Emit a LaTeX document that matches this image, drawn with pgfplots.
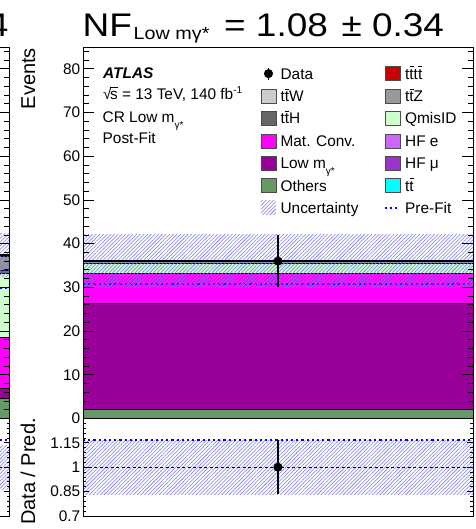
\documentclass[border=0pt]{standalone}
\usepackage{fontspec}
\setmainfont{Liberation Sans}
\usepackage{pgfplots}
\pgfplotsset{compat=1.18}
\usetikzlibrary{patterns.meta}

% sample colours
\definecolor{cOthers}{RGB}{102,153,102}
\definecolor{cLowM}{RGB}{153,0,153}
\definecolor{cMatConv}{RGB}{255,0,255}
\definecolor{cQmis}{RGB}{204,255,204}
\definecolor{cttW}{RGB}{204,204,204}
\definecolor{cttZ}{RGB}{153,153,153}
\definecolor{cttH}{RGB}{102,102,102}
\definecolor{ctttt}{RGB}{204,0,0}
\definecolor{cHFe}{RGB}{204,102,255}
\definecolor{cHFmu}{RGB}{153,51,204}
\definecolor{cttbar}{RGB}{0,255,255}
\definecolor{cHatch}{RGB}{120,120,245}

% t with a bar, sqrt(s), low-mass label
\newcommand{\tb}{\ooalign{t\cr\hidewidth\raisebox{0.78em}{\rule{0.26em}{0.06em}}\hidewidth\cr}}
\newcommand{\rts}{√\kern-0.1em\ooalign{s\cr\raisebox{0.78em}{\rule{0.5em}{0.05em}}\cr}}
\newcommand{\lowm}{Low m\raisebox{-0.35em}{\fontsize{10}{12}\selectfont γ*}}
\newcommand{\legbox}[1]{\addlegendimage{legend image code/.code={\draw[fill=#1,draw=black!70,line width=0.6pt] (0pt,-7pt) rectangle (15pt,7pt);}}}

\tikzset{unc/.style={pattern={Lines[angle=45,distance=2.6pt,line width=0.55pt]}, pattern color=cHatch, draw=none}}

\pgfplotsset{
  panel/.style={scale only axis, width=390pt, xmin=0, xmax=1, xtick=\empty,
    tick align=inside, tick pos=both, yticklabel pos=left,
    axis line style={line width=0.9pt}, tick style={line width=0.8pt, black},
    axis on top, clip=true,
    /pgf/number format/assume math mode=true,
    tick label style={font=\fontsize{15.4}{18}\selectfont},
    yticklabel style={inner sep=2.5pt}},
  upper/.style={panel, height=371.5pt, ymin=0, ymax=85,
    ytick={0,10,...,80}, minor ytick={2,4,...,84},
    major tick length=11pt, minor tick length=5.5pt},
  lower/.style={panel, height=97.5pt, ymin=0.7, ymax=1.3,
    ytick={0.7,0.85,1,1.15,1.3}, yticklabels={0.7,0.85,1,1.15,},
    minor ytick={0.73,0.76,...,1.28},
    major tick length=6pt, minor tick length=3pt},
  layer/.style={draw=black, line width=0.6pt, fill=#1},
}

\begin{document}
\begin{tikzpicture}
\useasboundingbox (0,0) rectangle (475pt,529pt);
\clip (0,0) rectangle (475pt,529pt);

% ---- neighbouring control region (only its right edge is on the page)
\begin{axis}[upper, at={(-380.2pt,110.5pt)}, anchor=south west, yticklabels={}]
  \addplot[layer=cOthers]   coordinates {(0,0) (1,0) (1,4.7) (0,4.7) (0,0)};
  \addplot[layer=cLowM]     coordinates {(0,4.7) (1,4.7) (1,7.0) (0,7.0) (0,4.7)};
  \addplot[layer=cMatConv]  coordinates {(0,7.0) (1,7.0) (1,18.6) (0,18.6) (0,7.0)};
  \addplot[layer=cQmis]     coordinates {(0,18.6) (1,18.6) (1,33.3) (0,33.3) (0,18.6)};
  \addplot[layer=cttH]      coordinates {(0,33.3) (1,33.3) (1,34.0) (0,34.0) (0,33.3)};
  \addplot[layer=cttZ]      coordinates {(0,34.0) (1,34.0) (1,37.0) (0,37.0) (0,34.0)};
  \addplot[layer=cttW]      coordinates {(0,37.0) (1,37.0) (1,37.4) (0,37.4) (0,37.0)};
  \addplot[blue, line width=2.2pt, dash pattern=on 2.2pt off 3pt] coordinates {(0,29.8) (1,29.8)};
  \addplot[unc] coordinates {(0,32.4) (1,32.4) (1,42.4) (0,42.4)};
  \addplot[black, line width=1.2pt] coordinates {(0,37.4) (1,37.4)};
\end{axis}
\begin{axis}[lower, at={(-380.2pt,13pt)}, anchor=south west, yticklabels={}]
  \addplot[unc] coordinates {(0,0.866) (1,0.866) (1,1.134) (0,1.134)};
  \addplot[blue, line width=2.2pt, dash pattern=on 2.2pt off 3pt] coordinates {(0,1.167) (1,1.167)};
  \addplot[black, line width=0.8pt, dash pattern=on 3pt off 2.5pt] coordinates {(0,1) (1,1)};
\end{axis}

% ---- CR Low m_gamma*, post-fit
\begin{axis}[upper, at={(83pt,110.5pt)}, anchor=south west,
  legend columns=2, legend cell align=left,
  legend style={draw=none, fill=none, inner sep=0pt, outer sep=0pt,
    at={(axis description cs:0.4556,0.948)}, anchor=north west,
    font=\fontsize{15.4}{18}\selectfont, row sep=7.8pt,
    nodes={inner sep=0pt, text height=12.5pt, text depth=1.5pt},
    /tikz/every odd column/.append style={column sep=4.3pt},
    /tikz/every even column/.append style={column sep=25pt}}]
  % stacked yields
  \addplot[layer=cOthers,  forget plot] coordinates {(0,0) (1,0) (1,2.2) (0,2.2) (0,0)};
  \addplot[layer=cLowM,    forget plot] coordinates {(0,2.2) (1,2.2) (1,26.3) (0,26.3) (0,2.2)};
  \addplot[layer=cMatConv, forget plot] coordinates {(0,26.3) (1,26.3) (1,33.3) (0,33.3) (0,26.3)};
  \addplot[layer=cQmis,    forget plot] coordinates {(0,33.3) (1,33.3) (1,35.5) (0,35.5) (0,33.3)};
  \addplot[fill=cttH, draw=none, forget plot] coordinates {(0,35.5) (1,35.5) (1,35.7) (0,35.7)};
  \addplot[fill=cttZ, draw=none, forget plot] coordinates {(0,35.7) (1,35.7) (1,35.9) (0,35.9)};
  \addplot[fill=cttW, draw=none, forget plot] coordinates {(0,35.9) (1,35.9) (1,36.0) (0,36.0)};
  % pre-fit total
  \addplot[blue, line width=2.2pt, dash pattern=on 2.2pt off 3pt, forget plot] coordinates {(0,30.8) (1,30.8)};
  % post-fit uncertainty and total
  \addplot[unc, forget plot] coordinates {(0,30.0) (1,30.0) (1,42.0) (0,42.0)};
  \addplot[black, line width=1.4pt, forget plot] coordinates {(0,36.0) (1,36.0)};
  % data
  \addplot[black, only marks, mark=*, mark size=4.3pt, forget plot,
    error bars/.cd, y dir=both, y explicit, error mark=none,
    error bar style={line width=1.3pt}] coordinates {(0.5,36) +- (0,6)};

  % legend, row by row
  \addlegendimage{legend image code/.code={\draw[black,line width=1.3pt] (7.5pt,-6pt) -- (7.5pt,6pt); \fill[black] (7.5pt,0pt) circle (4.3pt);}}
  \addlegendentry{Data}
  \legbox{ctttt}\addlegendentry{t\tb t\tb}
  \legbox{cttW}\addlegendentry{t\tb W}
  \legbox{cttZ}\addlegendentry{t\tb Z}
  \legbox{cttH}\addlegendentry{t\tb H}
  \legbox{cQmis}\addlegendentry{QmisID}
  \legbox{cMatConv}\addlegendentry{Mat. Conv.}
  \legbox{cHFe}\addlegendentry{HF e}
  \legbox{cLowM}\addlegendentry{\lowm}
  \legbox{cHFmu}\addlegendentry{HF μ}
  \legbox{cOthers}\addlegendentry{Others}
  \legbox{cttbar}\addlegendentry{t\tb}
  \addlegendimage{legend image code/.code={\fill[unc] (0pt,-7pt) rectangle (15pt,7pt);}}
  \addlegendentry{Uncertainty}
  \addlegendimage{legend image code/.code={\draw[blue,line width=2.2pt,dash pattern=on 2.2pt off 3pt] (-1pt,0pt) -- (13pt,0pt);}}
  \addlegendentry{Pre-Fit}
\end{axis}

\begin{axis}[lower, at={(83pt,13pt)}, anchor=south west]
  \addplot[unc] coordinates {(0,0.835) (1,0.835) (1,1.165) (0,1.165)};
  \addplot[blue, line width=2.2pt, dash pattern=on 2.2pt off 3pt] coordinates {(0,1.168) (1,1.168)};
  \addplot[black, line width=0.8pt, dash pattern=on 3pt off 2.5pt] coordinates {(0,1) (1,1)};
  \addplot[black, only marks, mark=*, mark size=4.3pt,
    error bars/.cd, y dir=both, y explicit, error mark=none,
    error bar style={line width=1.3pt}] coordinates {(0.5,1.0) +- (0,0.167)};
\end{axis}

% ---- labels
\node[anchor=base west, inner sep=0pt] at (82.5pt,492pt)
  {\scalebox{1.13}[1]{\fontsize{32.7}{36}\selectfont NF\kern1.5pt\raisebox{-2.6pt}{\fontsize{17.5}{18}\selectfont Low mγ*}\kern13pt= 1.08 \kern3pt± 0.34}};
% end of the neighbouring panel's title
\node[anchor=base east, inner sep=0pt] at (8.6pt,492pt)
  {\scalebox{1.13}[1]{\fontsize{32.7}{36}\selectfont 4}};

\begin{scope}[font=\fontsize{15.4}{18}\selectfont]
  \node[anchor=base west, inner sep=0pt, font=\fontsize{15.4}{18}\selectfont\bfseries\itshape] at (103pt,450.7pt) {ATLAS};
  \node[anchor=base west, inner sep=0pt] at (103pt,429pt) {\rts\ = 13 TeV, 140 fb\raisebox{0.45em}{\fontsize{10}{12}\selectfont -1}};
  \node[anchor=base west, inner sep=0pt] at (102.5pt,406pt) {CR \lowm};
  \node[anchor=base west, inner sep=0pt] at (102.5pt,385pt) {Post-Fit};
\end{scope}

\node[rotate=90, anchor=base east, inner sep=0pt, font=\fontsize{20}{24}\selectfont] at (35pt,481pt) {Events};
\node[rotate=90, anchor=base east, inner sep=0pt, font=\fontsize{20}{24}\selectfont] at (35pt,111pt) {Data / Pred.};
\end{tikzpicture}
\end{document}
